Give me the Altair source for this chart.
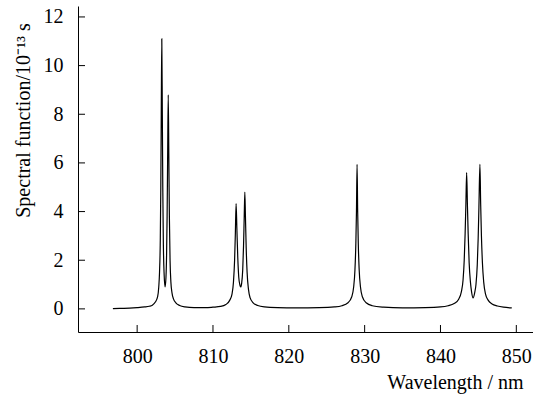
import altair as alt
import pandas as pd

# Wavelength (nm) and spectral function (10^-13 s)
wavelength = [
    796.8, 798.0, 799.0, 800.0, 801.0, 801.6, 802.0, 802.4, 802.7, 802.85, 802.95,
    803.05, 803.12, 803.18, 803.25, 803.32, 803.38, 803.46, 803.56, 803.68, 803.8,
    803.88, 803.95, 804.02, 804.1, 804.18, 804.25, 804.34, 804.45, 804.6, 804.8,
    805.1, 805.6, 806.3, 807.5,
    809.0, 810.0, 811.0, 811.7, 812.2, 812.5, 812.7, 812.85, 812.95, 813.05, 813.15,
    813.27, 813.4, 813.55, 813.65, 813.78, 813.92, 814.03, 814.12, 814.2, 814.28,
    814.38, 814.5, 814.68, 814.9, 815.3, 815.9, 816.8, 818.5, 821.0,
    824.0, 826.0, 827.0, 827.8, 828.3, 828.55, 828.72, 828.84, 828.92, 829.0, 829.08,
    829.16, 829.28, 829.45, 829.7, 830.2, 831.0, 832.5, 835.0,
    838.0, 840.0, 841.0, 841.8, 842.4, 842.75, 842.98, 843.13, 843.25, 843.35, 843.45,
    843.55, 843.65, 843.78, 843.95, 844.1, 844.3, 844.5, 844.68, 844.85, 844.97,
    845.07, 845.2, 845.3, 845.4, 845.53, 845.7, 845.95, 846.3, 846.8, 847.5, 848.3,
    849.4,
]
spectral = [
    0.01, 0.02, 0.03, 0.05, 0.08, 0.11, 0.15, 0.28, 0.5, 0.9, 1.5,
    2.8, 5.0, 8.0, 11.1, 8.0, 5.0, 2.6, 1.4, 0.9, 1.3,
    2.2, 3.8, 6.2, 8.8, 6.2, 3.8, 2.0, 1.1, 0.65, 0.4,
    0.25, 0.14, 0.08, 0.05,
    0.05, 0.07, 0.1, 0.18, 0.35, 0.6, 1.1, 2.0, 3.1, 4.33, 3.3,
    2.1, 1.3, 0.98, 0.9, 1.05, 1.6, 2.6, 3.8, 4.8, 3.8,
    2.5, 1.5, 0.8, 0.45, 0.25, 0.14, 0.08, 0.05, 0.04,
    0.05, 0.08, 0.13, 0.25, 0.5, 0.9, 1.6, 2.7, 4.0, 5.94, 4.0,
    2.7, 1.6, 0.9, 0.5, 0.25, 0.13, 0.07, 0.04,
    0.05, 0.08, 0.13, 0.22, 0.4, 0.7, 1.2, 2.0, 3.1, 4.3, 5.6,
    4.3, 3.1, 1.9, 1.1, 0.7, 0.45, 0.65, 1.0, 1.8, 2.9,
    4.2, 5.94, 4.3, 3.0, 1.9, 1.1, 0.6, 0.35, 0.2, 0.12, 0.07,
    0.04,
]
x_ticks = [800, 810, 820, 830, 840, 850]
y_ticks = [0, 2, 4, 6, 8, 10, 12]

W, H = 455, 326
FONT = "Liberation Serif"

curve = pd.DataFrame({"wl": wavelength, "sf": spectral})
xt = pd.DataFrame({"wl": x_ticks})
yt = pd.DataFrame({"sf": y_ticks})

xscale = alt.Scale(domain=[792.2, 852.2], nice=False, zero=False)
yscale = alt.Scale(domain=[-0.95, 12.45], nice=False, zero=False)

xaxis = alt.Axis(
    values=x_ticks, ticks=False, grid=False, domainColor="black", domainWidth=1,
    labelFont=FONT, labelFontSize=20, labelColor="black", labelPadding=14,
    title="Wavelength / nm", titleFont=FONT, titleFontSize=20, titleFontWeight="normal",
    titleColor="black", titleAlign="right", titleAnchor="end", titleX=445, titleY=56,
    titleBaseline="alphabetic",
)
yaxis = alt.Axis(
    values=y_ticks, ticks=False, grid=False, domainColor="black", domainWidth=1,
    labelFont=FONT, labelFontSize=20, labelColor="black", labelPadding=15,
    title="Spectral function/10⁻¹³ s", titleFont=FONT, titleFontSize=20,
    titleFontWeight="normal", titleColor="black", titleAngle=270, titleAlign="center",
    titleBaseline="middle", titleX=-55, titleY=114,
)

line = alt.Chart(curve).mark_line(color="black", strokeWidth=1.2, interpolate="monotone").encode(
    x=alt.X("wl:Q", scale=xscale, axis=xaxis),
    y=alt.Y("sf:Q", scale=yscale, axis=yaxis),
)

xtick_rules = alt.Chart(xt).mark_rule(color="black", strokeWidth=1).encode(
    x=alt.X("wl:Q", scale=xscale, axis=xaxis),
    y=alt.value(H),
    y2=alt.value(H - 7),
)
ytick_rules = alt.Chart(yt).mark_rule(color="black", strokeWidth=1).encode(
    y=alt.Y("sf:Q", scale=yscale, axis=yaxis),
    x=alt.value(0),
    x2=alt.value(7),
)

chart = alt.layer(line, xtick_rules, ytick_rules).properties(
    width=W, height=H,
    padding={"left": 78, "top": 6, "right": 0, "bottom": 67},
    autosize=alt.AutoSizeParams(type="none"),
    background="white",
).configure_view(stroke=None).configure_axis(labelFont=FONT, titleFont=FONT)

chart.save("out.html", embed_options={"renderer": "svg", "actions": False})
